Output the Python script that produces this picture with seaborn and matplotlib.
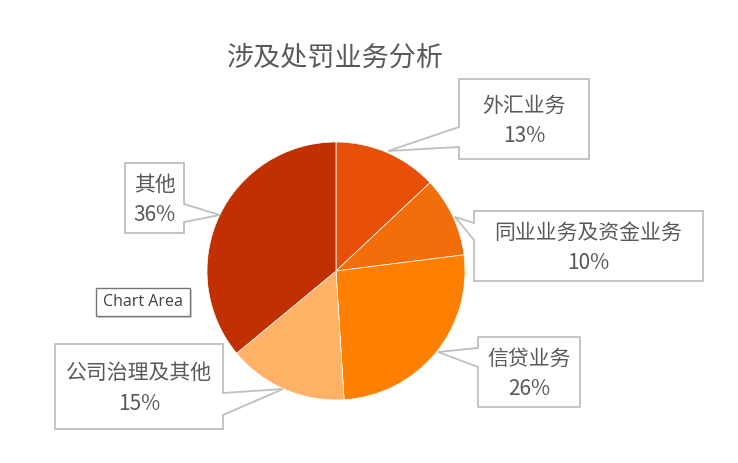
import matplotlib
matplotlib.use("Agg")
import matplotlib.pyplot as plt
import seaborn as sns
from matplotlib.patches import Polygon, Rectangle

# data
categories = ["外汇业务", "同业业务及资金业务", "信贷业务", "公司治理及其他", "其他"]
shares = [13, 10, 26, 15, 36]
slice_colors = ["#E8500A", "#F26E0A", "#FF8000", "#FFB266", "#C03000"]
title = "涉及处罚业务分析"

sns.set_theme(style="white")
plt.rcParams['font.family'] = ['Noto Sans CJK SC', 'DejaVu Sans']

W, H = 738, 463
fig = plt.figure(figsize=(W / 100, H / 100), dpi=100)
ax = fig.add_axes([0, 0, 1, 1])

cx, cy, r = 336, H - 271, 129
ax.pie(shares, colors=sns.color_palette(slice_colors), startangle=90, counterclock=False,
       center=(cx, cy), radius=r, frame=True,
       wedgeprops=dict(edgecolor="white", linewidth=0.5))
ax.set_xlim(0, W)
ax.set_ylim(0, H)
ax.set_aspect("equal")
ax.axis("off")

# callout boxes (pixel coords from top-left): box, side of pointer, pointer base, tip
callouts = [
    ((459, 79, 589, 159), "left", (127, 147), (388, 151)),
    ((474, 211, 703, 281), "left", (223, 240), (455, 217)),
    ((478, 337, 580, 407), "left", (348, 367), (438, 352)),
    ((55, 344, 223, 429), "right", (393, 415), (283, 389)),
    ((125, 163, 184, 233), "right", (204, 222), (220, 215)),
]

for name, val, (box, side, base, tip) in zip(categories, shares, callouts):
    x0, y0, x1, y1 = box
    b1, b2 = base
    if side == "left":
        pts = [(x0, y0), (x1, y0), (x1, y1), (x0, y1), (x0, b2), tip, (x0, b1)]
    else:
        pts = [(x0, y0), (x1, y0), (x1, b1), tip, (x1, b2), (x1, y1), (x0, y1)]
    pts = [(px, H - py) for px, py in pts]
    ax.add_patch(Polygon(pts, closed=True, facecolor="white", edgecolor="#BFBFBF",
                         linewidth=1.3, zorder=5))
    ax.text((x0 + x1) / 2, H - (y0 + y1) / 2 - 2, f"{name}\n{val}%", ha="center", va="center",
            fontsize=15, color="#595959", linespacing=1.5, zorder=6)

ax.text(335, H - 58, title, ha="center", va="center", fontsize=19.5, color="#595959")

# "Chart Area" tooltip
ax.add_patch(Rectangle((98, H - 318), 94, 28, facecolor="#C8C8C8", edgecolor="none",
                       alpha=0.7, zorder=7))
ax.add_patch(Rectangle((96, H - 316), 94, 28, facecolor="white", edgecolor="#767676",
                       linewidth=1, zorder=8))
ax.text(143, H - 302, "Chart Area", ha="center", va="center", fontsize=11.5,
        color="#404040", family=["Open Sans", "DejaVu Sans"], zorder=9)

fig.savefig("out.png", dpi=100)
